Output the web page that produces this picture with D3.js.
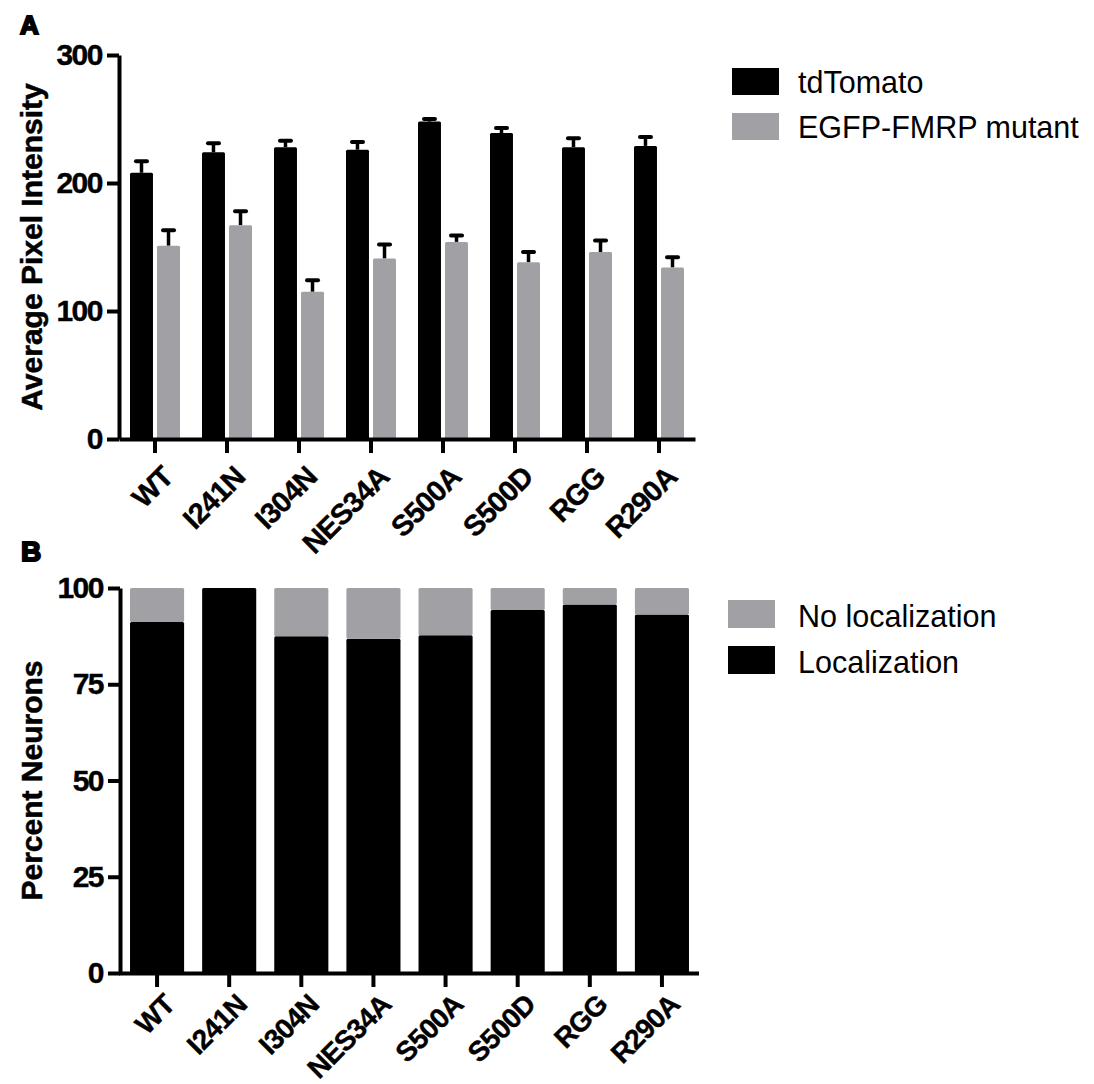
<!DOCTYPE html>
<html>
<head>
<meta charset="utf-8">
<script src="https://cdn.jsdelivr.net/npm/d3@7"></script>
<style>
  html, body { margin: 0; padding: 0; background: #fff; }
  svg { display: block; }
  .tick text { font-family: "Liberation Sans", Arial, sans-serif; font-weight: bold; fill: #000; }
</style>
</head>
<body>
<svg id="chart" width="1094" height="1084"></svg>
<script>
// ---- data ----
const categories = ["WT", "I241N", "I304N", "NES34A", "S500A", "S500D", "RGG", "R290A"];
const seriesA = ["tdTomato", "EGFP-FMRP mutant"];
const tdTomato = [208, 224, 228, 226, 248, 239, 228, 229];
const tdTomatoErr = [9, 7, 5, 6, 2, 4, 7, 7];
const egfpMutant = [151, 167, 115, 141, 154, 138, 146, 134];
const egfpMutantErr = [12, 11, 9, 11, 5, 8, 9, 8];
const seriesB = ["No localization", "Localization"];
const localization = [91.2, 100, 87.5, 86.8, 87.7, 94.3, 95.7, 93.1];
const noLocalization = [8.8, 0, 12.5, 13.2, 12.3, 5.7, 4.3, 6.9];
const ticksA = [0, 100, 200, 300];
const ticksB = [0, 25, 50, 75, 100];

const BLACK = "#000000";
const GRAY = "#a1a1a5";
const FONT = '"Liberation Sans", Arial, Helvetica, sans-serif';

const svg = d3.select("#chart");

function styleAxis(g) {
  g.select(".domain").attr("stroke", "#000").attr("stroke-width", 4);
  g.selectAll(".tick line").attr("stroke", "#000").attr("stroke-width", 4);
}

function xLabels(g, dy, fs) {
  g.selectAll(".tick text")
    .attr("font-size", fs)
    .attr("letter-spacing", "-0.8px")
    .attr("stroke", "#000").attr("stroke-width", 0.4)
    .attr("text-anchor", "end")
    .attr("dy", "0.72em")
    .attr("y", 0)
    .attr("transform", `translate(5,${dy}) rotate(-45)`);
}

function yLabels(g) {
  g.selectAll(".tick text")
    .attr("font-size", 30)
    .attr("letter-spacing", "-1.5px")
    .attr("stroke", "#000").attr("stroke-width", 0.4);
}

// ================= Panel A =================
const xA = d3.scaleBand().domain(categories).range([119, 695]).paddingInner(0).paddingOuter(0);
const xA1 = d3.scaleBand().domain(seriesA).range([11, 61]).paddingInner(0.15).paddingOuter(0);
const yA = d3.scaleLinear().domain([0, 300]).range([439, 55]);

const gA = svg.append("g");
const dataA = categories.map((c, i) => ({
  cat: c,
  vals: [
    { s: seriesA[0], v: tdTomato[i], e: tdTomatoErr[i], color: BLACK },
    { s: seriesA[1], v: egfpMutant[i], e: egfpMutantErr[i], color: GRAY }
  ]
}));

const groups = gA.selectAll("g.grp").data(dataA).join("g")
  .attr("transform", d => `translate(${xA(d.cat)},0)`);

// error bars (upper only)
groups.selectAll("line.err").data(d => d.vals).join("line")
  .attr("x1", d => xA1(d.s) + xA1.bandwidth() / 2)
  .attr("x2", d => xA1(d.s) + xA1.bandwidth() / 2)
  .attr("y1", d => yA(d.v))
  .attr("y2", d => yA(d.v + d.e))
  .attr("stroke", "#000").attr("stroke-width", 3.5);
groups.selectAll("line.cap").data(d => d.vals).join("line")
  .attr("x1", d => xA1(d.s) + xA1.bandwidth() / 2 - 5.5)
  .attr("x2", d => xA1(d.s) + xA1.bandwidth() / 2 + 5.5)
  .attr("y1", d => yA(d.v + d.e))
  .attr("y2", d => yA(d.v + d.e))
  .attr("stroke", "#000").attr("stroke-width", 4).attr("stroke-linecap", "round");

groups.selectAll("rect").data(d => d.vals).join("rect")
  .attr("x", d => xA1(d.s))
  .attr("width", xA1.bandwidth())
  .attr("y", d => yA(d.v))
  .attr("height", d => yA(0) - yA(d.v))
  .attr("rx", 1.5)
  .attr("fill", d => d.color);

const yAxisA = gA.append("g").attr("transform", "translate(119,0)")
  .call(d3.axisLeft(yA).tickValues(ticksA).tickSize(12).tickSizeOuter(0).tickPadding(5));
styleAxis(yAxisA);
yLabels(yAxisA);

const xAxisA = gA.append("g").attr("transform", "translate(0,439)")
  .call(d3.axisBottom(xA).tickSize(14).tickSizeOuter(0));
styleAxis(xAxisA);
xLabels(xAxisA, 25, 29);

gA.append("text")
  .attr("transform", `translate(42,${(yA(0) + yA(300)) / 2}) rotate(-90)`)
  .attr("text-anchor", "middle")
  .attr("font-family", FONT).attr("font-weight", "bold").attr("font-size", 30)
  .attr("stroke", "#000").attr("stroke-width", 0.5)
  .text("Average Pixel Intensity");

gA.append("text").attr("x", 20).attr("y", 34)
  .attr("font-family", FONT).attr("font-weight", "900").attr("font-size", 26)
  .attr("stroke", "#000").attr("stroke-width", 2)
  .text("A");

// legend A
const legA = gA.append("g");
[[seriesA[0], BLACK, 68], [seriesA[1], GRAY, 113]].forEach(([label, col, y]) => {
  legA.append("rect").attr("x", 732).attr("y", y).attr("width", 47).attr("height", 27).attr("fill", col);
  legA.append("text").attr("x", 798).attr("y", y + 25)
    .attr("font-family", FONT).attr("font-size", 30.5).attr("fill", "#000").text(label);
});

// ================= Panel B =================
const xB = d3.scaleBand().domain(categories).range([121, 698]).paddingInner(0.25).paddingOuter(0.125);
const yB = d3.scaleLinear().domain([0, 100]).range([973, 588]);

const gB = svg.append("g");
const stackData = categories.map((c, i) => ({ cat: c, "Localization": localization[i], "No localization": noLocalization[i] }));
const stack = d3.stack().keys(["Localization", "No localization"])(stackData);
const colorB = { "Localization": BLACK, "No localization": GRAY };

gB.selectAll("g.layer").data(stack).join("g")
  .attr("fill", d => colorB[d.key])
  .selectAll("rect").data(d => d).join("rect")
  .attr("x", d => xB(d.data.cat))
  .attr("width", xB.bandwidth())
  .attr("y", d => yB(d[1]))
  .attr("height", d => yB(d[0]) - yB(d[1]))
  .attr("rx", 1.5);

const yAxisB = gB.append("g").attr("transform", "translate(120,0)")
  .call(d3.axisLeft(yB).tickValues(ticksB).tickSize(12).tickSizeOuter(0).tickPadding(5));
styleAxis(yAxisB);
yLabels(yAxisB);

const xAxisB = gB.append("g").attr("transform", "translate(0,973)")
  .call(d3.axisBottom(xB).tickSize(14).tickSizeOuter(0));
xAxisB.select(".domain").attr("d", "M119,0.5H699");
styleAxis(xAxisB);
xLabels(xAxisB, 19, 28);

gB.append("text")
  .attr("transform", `translate(42,${(yB(0) + yB(100)) / 2}) rotate(-90)`)
  .attr("text-anchor", "middle")
  .attr("font-family", FONT).attr("font-weight", "bold").attr("font-size", 30)
  .attr("stroke", "#000").attr("stroke-width", 0.5)
  .text("Percent Neurons");

gB.append("text").attr("x", 21).attr("y", 561)
  .attr("font-family", FONT).attr("font-weight", "900").attr("font-size", 28)
  .attr("stroke", "#000").attr("stroke-width", 2)
  .text("B");

// legend B
const legB = gB.append("g");
[[seriesB[0], GRAY, 600], [seriesB[1], BLACK, 646]].forEach(([label, col, y]) => {
  legB.append("rect").attr("x", 728).attr("y", y).attr("width", 47).attr("height", 28).attr("fill", col);
  legB.append("text").attr("x", 798).attr("y", y + 27)
    .attr("font-family", FONT).attr("font-size", 30.5).attr("fill", "#000").text(label);
});
</script>
</body>
</html>
